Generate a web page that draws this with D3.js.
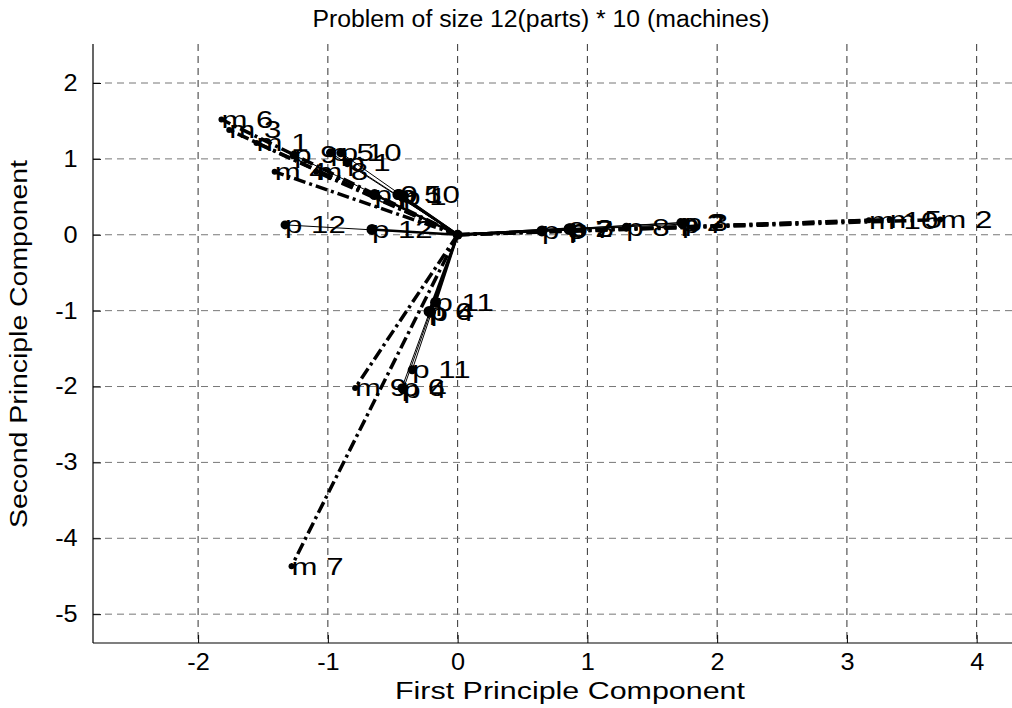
<!DOCTYPE html>
<html>
<head>
<meta charset="utf-8">
<script src="https://cdn.jsdelivr.net/npm/d3@7"></script>
<style>
  body { margin: 0; background: #fff; }
  svg { display: block; font-family: "Liberation Sans", Arial, sans-serif; }
</style>
</head>
<body>
<svg id="chart"></svg>
<script>
// part labels and their scores (outer set and inner set)
const partNames = ["p 1", "p 2", "p 3", "p 4", "p 5", "p 6", "p 7", "p 8", "p 9", "p 10", "p 11", "p 12"];
const partsOuterX = [-0.85, 1.72, 1.75, -0.42, -0.98, -0.43, 1.73, 1.30, -1.26, -0.90, -0.35, -1.33];
const partsOuterY = [0.95, 0.16, 0.16, -2.04, 1.08, -2.02, 0.14, 0.10, 1.05, 1.08, -1.78, 0.13];
const partsInnerX = [-0.42, 0.86, 0.87, -0.21, -0.46, -0.22, 0.86, 0.65, -0.64, -0.45, -0.17, -0.66];
const partsInnerY = [0.50, 0.08, 0.08, -1.02, 0.53, -1.01, 0.07, 0.05, 0.53, 0.53, -0.89, 0.07];

// machines
const machineNames = ["m 1", "m 2", "m 3", "m 4", "m 5", "m 6", "m 7", "m 8", "m 9", "m 10"];
const machineX = [-1.55, 3.72, -1.76, -1.41, 3.33, -1.82, -1.28, -1.09, -0.79, 3.17];
const machineY = [1.21, 0.20, 1.38, 0.83, 0.20, 1.52, -4.37, 0.83, -2.02, 0.19];

const xTicks = [-2, -1, 0, 1, 2, 3, 4];
const yTicks = [-5, -4, -3, -2, -1, 0, 1, 2];

const W = 1012, H = 708;
const svg = d3.select("#chart").attr("width", W).attr("height", H);

const x = d3.scaleLinear().domain([-2.81, 4.28]).range([93, 1013]);
const y = d3.scaleLinear().domain([-5.38, 2.514]).range([643, 44]);

// grid
svg.append("g").selectAll("line")
    .data(xTicks)
    .join("line")
    .attr("x1", d => x(d)).attr("x2", d => x(d))
    .attr("y1", 44).attr("y2", 643)
    .attr("stroke", "#333").attr("stroke-width", 1)
    .attr("stroke-dasharray", "7,5");

svg.append("g").selectAll("line")
    .data(yTicks)
    .join("line")
    .attr("x1", 93).attr("x2", W)
    .attr("y1", d => y(d)).attr("y2", d => y(d))
    .attr("stroke", "#777").attr("stroke-width", 1)
    .attr("stroke-dasharray", "7,5");

// axes
const xAxis = d3.axisBottom(x).tickValues(xTicks).tickFormat(d => String(d))
    .tickSizeInner(-8).tickSizeOuter(0).tickPadding(11);
const yAxis = d3.axisLeft(y).tickValues(yTicks).tickFormat(d => String(d))
    .tickSizeInner(-8).tickSizeOuter(0).tickPadding(14);

const gx = svg.append("g").attr("transform", "translate(0,643)").call(xAxis);
const gy = svg.append("g").attr("transform", "translate(93,0)").call(yAxis);
[gx, gy].forEach(g => {
    g.select(".domain").attr("stroke", "#000").attr("stroke-width", 1.2);
    g.selectAll(".tick line").attr("stroke", "#000");
    g.selectAll(".tick text").attr("fill", "#000")
        .style("font-size", "23px").style("font-family", "'Liberation Sans', Arial, sans-serif")
        .attr("transform", "scale(1.1,1)");
});
gx.select(".domain").attr("d", `M93,0H${W}`);
gy.select(".domain").attr("d", "M0,44V643");

const plot = svg.append("g");
const ox = x(0), oy = y(0);

// machine vectors (dash-dot)
const mIdx = d3.range(machineNames.length);
plot.append("g").selectAll("line")
    .data(mIdx)
    .join("line")
    .attr("x1", ox).attr("y1", oy)
    .attr("x2", i => x(machineX[i])).attr("y2", i => y(machineY[i]))
    .attr("stroke", "#000").attr("stroke-width", 3.5)
    .attr("stroke-dasharray", "12,4,3,4");

// part vectors
const pIdx = d3.range(partNames.length);
plot.append("g").selectAll("line")
    .data(pIdx)
    .join("line")
    .attr("x1", ox).attr("y1", oy)
    .attr("x2", i => x(partsOuterX[i])).attr("y2", i => y(partsOuterY[i]))
    .attr("stroke", "#000").attr("stroke-width", 1);

plot.append("g").selectAll("line")
    .data(pIdx)
    .join("line")
    .attr("x1", ox).attr("y1", oy)
    .attr("x2", i => x(partsInnerX[i])).attr("y2", i => y(partsInnerY[i]))
    .attr("stroke", "#000").attr("stroke-width", 2.5);

// markers
plot.append("g").selectAll("circle")
    .data(pIdx)
    .join("circle")
    .attr("cx", i => x(partsOuterX[i])).attr("cy", i => y(partsOuterY[i]))
    .attr("r", 4.5).attr("fill", "#000");

plot.append("g").selectAll("circle")
    .data(pIdx)
    .join("circle")
    .attr("cx", i => x(partsInnerX[i])).attr("cy", i => y(partsInnerY[i]))
    .attr("r", 5.5).attr("fill", "#000");

plot.append("g").selectAll("circle")
    .data(mIdx)
    .join("circle")
    .attr("cx", i => x(machineX[i])).attr("cy", i => y(machineY[i]))
    .attr("r", 3).attr("fill", "#000");

plot.append("circle").attr("cx", ox).attr("cy", oy).attr("r", 5).attr("fill", "#000");

// labels, drawn a little wider than the font like the original export
function addLabels(names, xs, ys) {
    plot.append("g").selectAll("text")
        .data(d3.range(names.length))
        .join("text")
        .attr("transform", i => `translate(${x(xs[i])},${y(ys[i])}) scale(1.3,1)`)
        .attr("dy", "0.35em")
        .style("font-size", "24px")
        .text(i => names[i]);
}
addLabels(machineNames, machineX, machineY);
addLabels(partNames, partsOuterX, partsOuterY);
addLabels(partNames, partsInnerX, partsInnerY);

// titles
svg.append("text")
    .attr("x", 541).attr("y", 27)
    .attr("text-anchor", "middle")
    .attr("textLength", 457).attr("lengthAdjust", "spacingAndGlyphs")
    .style("font-size", "23px")
    .text("Problem of size 12(parts) * 10 (machines)");

svg.append("text")
    .attr("x", 570).attr("y", 699)
    .attr("text-anchor", "middle")
    .attr("textLength", 350).attr("lengthAdjust", "spacingAndGlyphs")
    .style("font-size", "23px")
    .text("First Principle Component");

svg.append("text")
    .attr("transform", "translate(27,344) rotate(-90)")
    .attr("text-anchor", "middle")
    .attr("textLength", 368).attr("lengthAdjust", "spacingAndGlyphs")
    .style("font-size", "23px")
    .text("Second Principle Component");
</script>
</body>
</html>
